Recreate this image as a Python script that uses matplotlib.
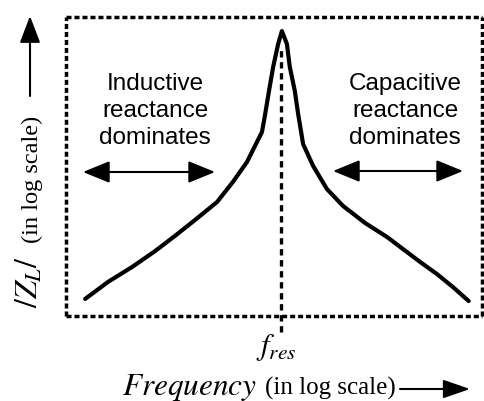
import matplotlib
matplotlib.use("Agg")
import matplotlib.pyplot as plt
from matplotlib.patches import FancyArrowPatch

plt.rcParams['mathtext.fontset'] = 'stix'

# Curve (log-frequency and log-|Z| on a 0-100 scale)
log_freq = [4.6, 10.1, 15.9, 21.4, 26.2, 31.0, 36.3, 40.1, 43.5, 45.9, 47.1, 47.8, 48.8,
            49.8, 51.0, 51.9,
            53.1, 53.8, 55.0, 55.8, 57.0, 59.4, 62.7, 66.6, 71.9, 77.2, 81.0, 85.1, 89.2,
            93.0, 96.8]
log_z = [5.7, 11.4, 16.4, 21.7, 26.8, 32.1, 38.1, 44.8, 51.5, 58.2, 61.5, 66.9, 75.3,
         83.3, 91.0, 95.3,
         91.0, 83.3, 75.3, 67.6, 57.5, 50.2, 42.5, 36.8, 31.1, 26.4, 22.4, 18.1, 14.0,
         9.7, 5.0]
f_res = 51.7
left_label = "Inductive\nreactance\ndominates"
right_label = "Capacitive\nreactance\ndominates"

W, H = 484, 402
fig = plt.figure(figsize=(W / 100, H / 100), dpi=100)

def fx(px):
    return px / W

def fy(py):
    return 1 - py / H

ax = fig.add_axes([fx(66), fy(317), (482 - 66) / W, 299 / H])
ax.set_xlim(0, 100)
ax.set_ylim(0, 100)
ax.set_xticks([])
ax.set_yticks([])
for s in ax.spines.values():
    s.set_linestyle((0, (1.45, 0.85)))
    s.set_linewidth(2.5)
    s.set_capstyle('butt')

ax.plot(log_freq, log_z, color='black', lw=3.0, solid_joinstyle='round',
        solid_capstyle='round', clip_on=False)
ax.plot([f_res, f_res], [-5.4, 90], color='black', lw=2.4,
        linestyle=(0, (1.9, 1.4)), clip_on=False)

sans = 'Liberation Sans'
serif = 'Liberation Serif'
fig.text(fx(155), fy(111), left_label, ha='center', va='center', fontsize=17.5,
         family=sans, linespacing=1.32)
fig.text(fx(405), fy(111), right_label, ha='center', va='center', fontsize=17.5,
         family=sans, linespacing=1.32)

def arrow(x0, y0, x1, y1, style):
    a = FancyArrowPatch((fx(x0), fy(y0)), (fx(x1), fy(y1)), transform=fig.transFigure,
                        arrowstyle=style, mutation_scale=15, color='black', lw=1.5,
                        shrinkA=0, shrinkB=0)
    fig.add_artist(a)

arrow(83, 173, 215, 173, "<|-|>,head_length=1.1,head_width=0.45")
arrow(333, 172, 463, 172, "<|-|>,head_length=1.1,head_width=0.45")
arrow(30, 97, 30, 17, "-|>,head_length=1.1,head_width=0.42")
arrow(400, 390, 470, 390, "-|>,head_length=1.1,head_width=0.38")

fig.text(fx(276), fy(355), r"$f_{res}$", ha='center', va='baseline', fontsize=22)
fig.text(fx(122), fy(395), r"$\mathit{Frequency}$", ha='left', va='baseline', fontsize=22.5)
fig.text(fx(265), fy(395), "(in log scale)", ha='left', va='baseline', fontsize=18,
         family=serif)
fig.text(fx(38), fy(308), r"$/Z_L/$", ha='left', va='baseline', fontsize=23, rotation=90,
         rotation_mode='anchor')
fig.text(fx(38), fy(243), "(in log scale)", ha='left', va='baseline', fontsize=17.6,
         family=serif, rotation=90, rotation_mode='anchor')

fig.savefig("out.png", dpi=100)
